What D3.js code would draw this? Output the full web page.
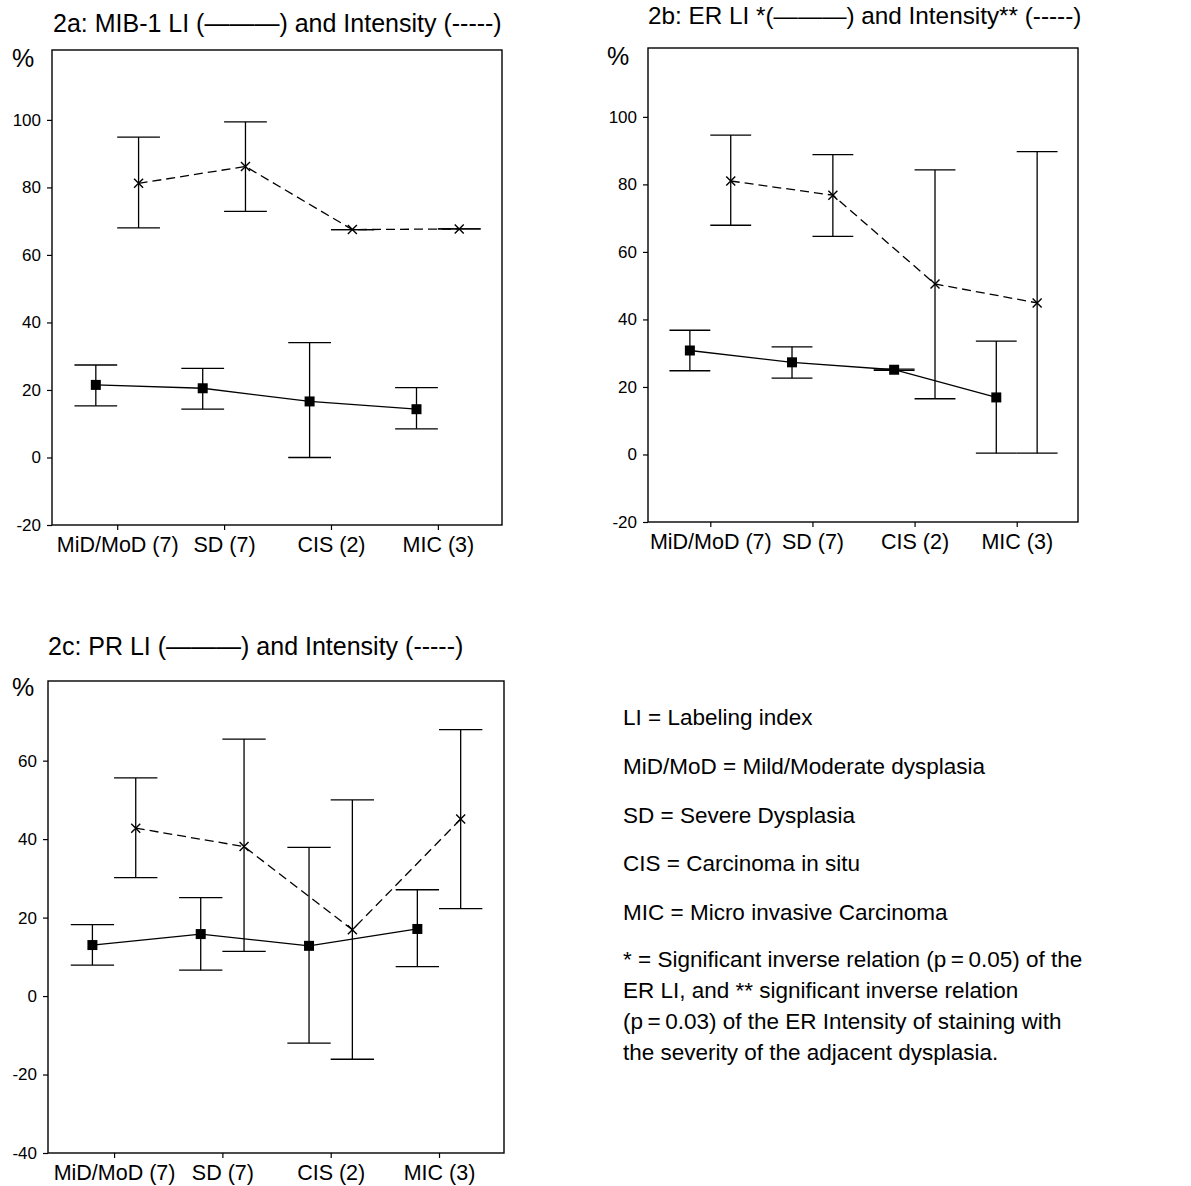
<!DOCTYPE html>
<html>
<head>
<meta charset="utf-8">
<script src="https://cdn.jsdelivr.net/npm/d3@7"></script>
<style>
  body { margin: 0; background: #fff; }
  svg text { font-family: "Liberation Sans", Arial, sans-serif; fill: #000; }
</style>
</head>
<body>
<svg width="1191" height="1186"></svg>
<script>
const categories = ["MiD/MoD (7)", "SD (7)", "CIS (2)", "MIC (3)"];

// 2a MIB-1
const mibLI = [21.5, 20.5, 16.6, 14.3];
const mibLILow = [15.3, 14.3, 0, 8.5];
const mibLIHigh = [27.4, 26.4, 34.0, 20.7];
const mibInt = [81.2, 86.2, 67.5, 67.7];
const mibIntLow = [68.0, 72.9, 67.5, 67.7];
const mibIntHigh = [94.9, 99.4, 67.5, 67.7];

// 2b ER
const erLI = [30.8, 27.3, 25.1, 16.9];
const erLILow = [24.8, 22.6, 24.9, 0.4];
const erLIHigh = [36.8, 31.9, 25.3, 33.6];
const erInt = [81.0, 76.8, 50.5, 44.9];
const erIntLow = [67.9, 64.6, 16.5, 0.4];
const erIntHigh = [94.6, 88.8, 84.3, 89.7];

// 2c PR
const prLI = [13.0, 15.8, 12.8, 17.1];
const prLILow = [7.9, 6.6, -12.0, 7.5];
const prLIHigh = [18.2, 25.1, 37.9, 27.1];
const prInt = [42.8, 38.1, 16.9, 45.1];
const prIntLow = [30.2, 11.4, -16.1, 22.3];
const prIntHigh = [55.6, 65.5, 50.0, 67.9];

const ticksAB = [-20, 0, 20, 40, 60, 80, 100];
const ticksC = [-40, -20, 0, 20, 40, 60];

const legendLines = [
  "LI = Labeling index",
  "MiD/MoD = Mild/Moderate dysplasia",
  "SD = Severe Dysplasia",
  "CIS = Carcinoma in situ",
  "MIC = Micro invasive Carcinoma"
];
const noteLines = [
  "* = Significant inverse relation (p\u2009=\u20090.05) of the",
  "ER LI, and ** significant inverse relation",
  "(p\u2009=\u20090.03) of the ER Intensity of staining with",
  "the severity of the adjacent dysplasia."
];

const svg = d3.select("svg");

const panels = [
  { title: "2a: MIB-1 LI (\u2014\u2014\u2014) and Intensity (-----)", tx: 53, ty: 32, ts: 25,
    px: 12, py: 67, left: 52, top: 50, right: 502, bottom: 525, yDomain: [-20, 120.7], ticks: ticksAB,
    li: [mibLI, mibLILow, mibLIHigh], int: [mibInt, mibIntLow, mibIntHigh] },
  { title: "2b: ER LI *(\u2014\u2014\u2014) and Intensity** (-----)", tx: 648, ty: 24, ts: 24.3,
    px: 607, py: 65, left: 648, top: 48, right: 1078, bottom: 522, yDomain: [-20, 120.4], ticks: ticksAB,
    li: [erLI, erLILow, erLIHigh], int: [erInt, erIntLow, erIntHigh] },
  { title: "2c: PR LI (\u2014\u2014\u2014) and Intensity (-----)", tx: 48, ty: 655, ts: 25,
    px: 12, py: 696, left: 48, top: 681, right: 504, bottom: 1153, yDomain: [-40, 80.3], ticks: ticksC,
    li: [prLI, prLILow, prLIHigh], int: [prInt, prIntLow, prIntHigh] }
];

const off = 0.2;

panels.forEach(p => {
  const x = d3.scaleLinear().domain([0.39, 4.6]).range([p.left, p.right]);
  const y = d3.scaleLinear().domain(p.yDomain).range([p.bottom, p.top]);
  const capHalf = x(1 + off) - x(1);

  svg.append("text").attr("x", p.tx).attr("y", p.ty)
    .style("font-size", p.ts + "px").text(p.title);
  svg.append("text").attr("x", p.px).attr("y", p.py)
    .style("font-size", "25px").text("%");

  svg.append("rect")
    .attr("x", p.left).attr("y", p.top)
    .attr("width", p.right - p.left).attr("height", p.bottom - p.top)
    .attr("fill", "none").attr("stroke", "#000").attr("stroke-width", 1.4);

  const ya = svg.append("g").attr("transform", `translate(${p.left},0)`)
    .call(d3.axisLeft(y).tickValues(p.ticks).tickSize(5).tickPadding(6).tickFormat(d => String(d)));
  ya.select(".domain").remove();
  ya.selectAll("text").style("font-size", "17px").style("font-family", "Liberation Sans, Arial, sans-serif");
  ya.selectAll("line").attr("stroke-width", 1.2);

  const xa = svg.append("g").attr("transform", `translate(0,${p.bottom})`)
    .call(d3.axisBottom(x).tickValues([1, 2, 3, 4]).tickSize(5).tickPadding(7)
      .tickFormat(i => categories[i - 1]));
  xa.select(".domain").remove();
  xa.selectAll("text").style("font-size", "21.5px").style("font-family", "Liberation Sans, Arial, sans-serif");
  xa.selectAll("line").attr("stroke-width", 1.2);

  const series = [
    { vals: p.li, shift: -off, dash: null, marker: "square" },
    { vals: p.int, shift: off, dash: "9,5", marker: "cross" }
  ];

  series.forEach(s => {
    const [mean, low, high] = s.vals;
    const pts = mean.map((v, i) => ({ cx: x(i + 1 + s.shift), v, lo: low[i], hi: high[i] }));
    const g = svg.append("g").attr("stroke", "#000").attr("stroke-width", 1.3).attr("fill", "none");

    // error bars
    pts.forEach(d => {
      g.append("line").attr("x1", d.cx).attr("x2", d.cx).attr("y1", y(d.lo)).attr("y2", y(d.hi));
      [d.lo, d.hi].forEach(v => {
        g.append("line").attr("x1", d.cx - capHalf).attr("x2", d.cx + capHalf)
          .attr("y1", y(v)).attr("y2", y(v));
      });
    });

    // connecting line
    g.append("path")
      .attr("d", d3.line().x(d => d.cx).y(d => y(d.v))(pts))
      .attr("stroke-dasharray", s.dash);

    // markers
    pts.forEach(d => {
      const cy = y(d.v);
      if (s.marker === "square") {
        svg.append("rect").attr("x", d.cx - 5).attr("y", cy - 5)
          .attr("width", 10).attr("height", 10).attr("fill", "#000");
      } else {
        g.append("path")
          .attr("d", `M${d.cx - 4.5},${cy - 4.5}L${d.cx + 4.5},${cy + 4.5}M${d.cx - 4.5},${cy + 4.5}L${d.cx + 4.5},${cy - 4.5}`)
          .attr("stroke-width", 1.4);
      }
    });
  });
});

// legend text block
const leg = svg.append("g").style("font-size", "22.5px");
const legY = d3.scalePoint().domain(d3.range(legendLines.length)).range([725, 920]);
leg.selectAll("text.def").data(legendLines).join("text")
  .attr("class", "def").attr("x", 623).attr("y", (d, i) => legY(i)).text(d => d);
const noteY = d3.scalePoint().domain(d3.range(noteLines.length)).range([967, 1060]);
leg.selectAll("text.note").data(noteLines).join("text")
  .attr("class", "note").attr("x", 623).attr("y", (d, i) => noteY(i)).text(d => d);
</script>
</body>
</html>
